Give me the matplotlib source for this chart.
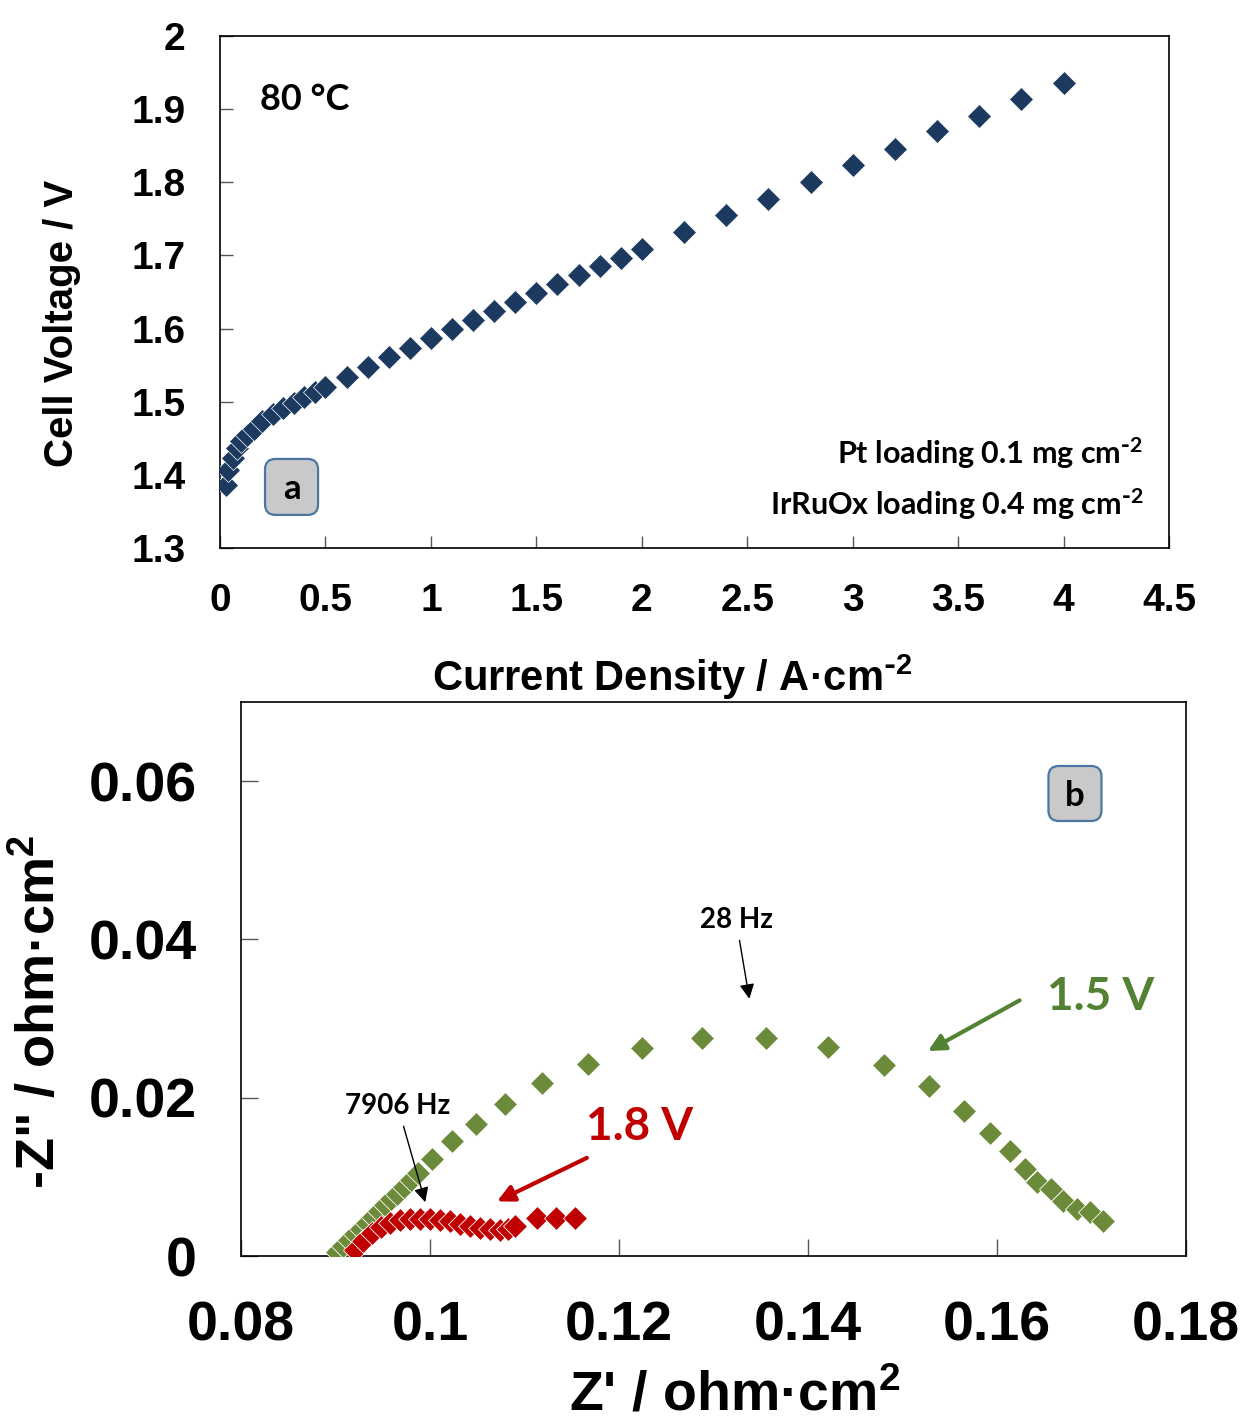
#polarisationskurva och impedans

#biblotek
import numpy as np
import matplotlib.pyplot as plt
from matplotlib.patches import FancyBboxPatch

plt.rcParams['font.family'] = ['Liberation Sans', 'DejaVu Sans']
plt.rcParams['font.weight'] = 'bold'
plt.rcParams['mathtext.default'] = 'regular'

#strömtäthet och cellspänning vid 80 C
strom = [0.03, 0.04, 0.06, 0.08, 0.10, 0.13, 0.16, 0.20, 0.25, 0.30, 0.35, 0.40, 0.45, 0.50,
         0.6, 0.7, 0.8, 0.9, 1.0, 1.1, 1.2, 1.3, 1.4, 1.5, 1.6, 1.7, 1.8, 1.9, 2.0,
         2.2, 2.4, 2.6, 2.8, 3.0, 3.2, 3.4, 3.6, 3.8, 4.0]
spanning = [1.386, 1.407, 1.423, 1.437, 1.446, 1.454, 1.463, 1.474, 1.483, 1.491, 1.498, 1.506, 1.513, 1.520,
            1.534, 1.547, 1.561, 1.573, 1.587, 1.599, 1.612, 1.624, 1.636, 1.649, 1.661, 1.673, 1.686, 1.697, 1.709,
            1.732, 1.755, 1.777, 1.800, 1.824, 1.846, 1.870, 1.891, 1.914, 1.936]

#nyquist 1.5 V
zre_15 = [0.0902, 0.0908, 0.0914, 0.0921, 0.0927, 0.0933, 0.0940, 0.0946, 0.0952, 0.0959, 0.0965, 0.0973, 0.0980, 0.0987,
          0.1002, 0.1023, 0.1049, 0.1079, 0.1119, 0.1167, 0.1224, 0.1288, 0.1356, 0.1421, 0.1480, 0.1528,
          0.1565, 0.1593, 0.1614, 0.1630, 0.1642, 0.1657, 0.1670, 0.1685, 0.1698, 0.1712]
zim_15 = [0.0005, 0.0013, 0.0020, 0.0028, 0.0034, 0.0042, 0.0049, 0.0057, 0.0064, 0.0072, 0.0078, 0.0087, 0.0096, 0.0105,
          0.0123, 0.0145, 0.0167, 0.0192, 0.0218, 0.0243, 0.0263, 0.0275, 0.0275, 0.0264, 0.0241, 0.0215,
          0.0183, 0.0155, 0.0133, 0.0110, 0.0093, 0.0085, 0.0070, 0.0059, 0.0055, 0.0044]

#nyquist 1.8 V
zre_18 = [0.0921, 0.0929, 0.0939, 0.0948, 0.0958, 0.0968, 0.0979, 0.0989, 0.1000, 0.1011, 0.1021,
          0.1032, 0.1042, 0.1053, 0.1063, 0.1074, 0.1083, 0.1090, 0.1113, 0.1133, 0.1153]
zim_18 = [0.0008, 0.0019, 0.0029, 0.0037, 0.0042, 0.0045, 0.0047, 0.0047, 0.0047, 0.0046, 0.0044,
          0.0041, 0.0038, 0.0036, 0.0034, 0.0033, 0.0034, 0.0038, 0.0048, 0.0048, 0.0048]

xt_a = [0, 0.5, 1, 1.5, 2, 2.5, 3, 3.5, 4, 4.5]
yt_a = [1.3, 1.4, 1.5, 1.6, 1.7, 1.8, 1.9, 2.0]
xt_b = [0.08, 0.10, 0.12, 0.14, 0.16, 0.18]
yt_b = [0, 0.02, 0.04, 0.06]

navy = '#1c3a60'
olive = '#6b8a3a'
gron = '#548235'
rod = '#c00000'
calib = ['Lato', 'DejaVu Sans']
minus2 = r"$^{\text{-}2}$"

def etikett(ax, txt, x, y, w, h):
    #grå ruta med bokstav
    asp = (ax.bbox.width / ax.bbox.height)
    box = FancyBboxPatch((x, y), w, h, boxstyle='round,pad=0,rounding_size=0.011', mutation_aspect=asp,
                         transform=ax.transAxes, fc='#c9c9c9', ec='#4a77a3', lw=1.6, zorder=5)
    ax.add_patch(box)
    ax.text(x + w/2, y + h/2 - 0.005, txt, transform=ax.transAxes, ha='center', va='center',
            fontsize=25, family=calib, fontweight='bold', zorder=6)

def ram(ax, ticklen):
    for s in ax.spines.values():
        s.set_linewidth(1.2)
    ax.tick_params(direction='in', length=ticklen, width=1, color='#555555', top=False, right=False)

fig = plt.figure(figsize=(12.46, 14.21), dpi=100)

#panel a
ax1 = fig.add_axes([0.1766, 0.6144, 0.7616, 0.3603])
ax1.plot(strom, spanning, 'D', color=navy, ms=12, mec='white', mew=0.5, zorder=3)
ax1.set_xlim(0, 4.5)
ax1.set_ylim(1.3, 2.0)
ax1.set_xticks(xt_a)
ax1.set_yticks(yt_a)
ax1.set_xticklabels([f"{v:g}" for v in xt_a])
ax1.set_yticklabels([f"{v:g}" for v in yt_a])
ram(ax1, 9)
ax1.tick_params(axis='both', labelsize=28, pad=25)
ax1.set_xlabel("Current Density / A·cm" + minus2, fontsize=30, fontweight='bold')
ax1.xaxis.set_label_coords(0.477, -0.205)
ax1.set_ylabel("Cell Voltage / V", fontsize=29, fontweight='bold')
ax1.yaxis.set_label_coords(-0.147, 0.439)
ax1.text(0.042, 0.875, "80 °C", transform=ax1.transAxes, fontsize=26, family=calib, fontweight='bold', va='center')
ax1.text(0.9726, 0.1855, "Pt loading 0.1 mg cm" + minus2, transform=ax1.transAxes, fontsize=22, family=calib,
         fontweight='bold', ha='right', va='center')
ax1.text(0.9726, 0.0859, "IrRuOx loading 0.4 mg cm" + minus2, transform=ax1.transAxes, fontsize=22, family=calib,
         fontweight='bold', ha='right', va='center')
etikett(ax1, 'a', 0.0474, 0.0645, 0.0559, 0.1093)

#panel b
ax2 = fig.add_axes([0.1934, 0.1161, 0.7584, 0.3899])
ax2.plot(zre_15, zim_15, 'D', color=olive, ms=12, mec='white', mew=0.6, zorder=3)
ax2.plot(zre_18, zim_18, 'D', color=rod, ms=12, mec='white', mew=0.6, zorder=4)
ax2.set_xlim(0.08, 0.18)
ax2.set_ylim(0, 0.07)
ax2.set_xticks(xt_b)
ax2.set_yticks(yt_b)
ax2.set_xticklabels([f"{v:g}" for v in xt_b])
ax2.set_yticklabels([f"{v:g}" for v in yt_b])
ram(ax2, 12)
ax2.tick_params(axis='both', labelsize=40, pad=32)
ax2.set_xlabel("Z' / ohm·cm$^{2}$", fontsize=40, fontweight='bold')
ax2.xaxis.set_label_coords(0.523, -0.205)
ax2.set_ylabel('-Z" / ohm·cm$^{2}$', fontsize=39, fontweight='bold')
ax2.yaxis.set_label_coords(-0.186, 0.44)
etikett(ax2, 'b', 0.8545, 0.7852, 0.0561, 0.0993)

#frekvenspilar
ax2.annotate("28 Hz", xy=(0.1338, 0.0325), xytext=(0.1324, 0.0424), ha='center', va='center',
             fontsize=20, family=calib, fontweight='bold',
             arrowprops=dict(arrowstyle='-|>', color='black', lw=1, mutation_scale=22, shrinkA=3, shrinkB=0))
ax2.annotate("7906 Hz", xy=(0.0995, 0.0068), xytext=(0.0966, 0.0189), ha='center', va='center',
             fontsize=20, family=calib, fontweight='bold',
             arrowprops=dict(arrowstyle='-|>', color='black', lw=1, mutation_scale=22, shrinkA=3, shrinkB=0))

#spänningspilar
ax2.text(0.1710, 0.0327, "1.5 V", color=gron, fontsize=33, family=calib, fontweight='bold', ha='center', va='center')
ax2.annotate("", xy=(0.1527, 0.0259), xytext=(0.1624, 0.0323),
             arrowprops=dict(arrowstyle='-|>', color=gron, lw=3, mutation_scale=25, shrinkA=0, shrinkB=0))
ax2.text(0.1222, 0.0163, "1.8 V", color=rod, fontsize=33, family=calib, fontweight='bold', ha='center', va='center')
ax2.annotate("", xy=(0.1071, 0.0069), xytext=(0.1166, 0.0124),
             arrowprops=dict(arrowstyle='-|>', color=rod, lw=3, mutation_scale=25, shrinkA=0, shrinkB=0))

fig.savefig('out.png', dpi=100)
